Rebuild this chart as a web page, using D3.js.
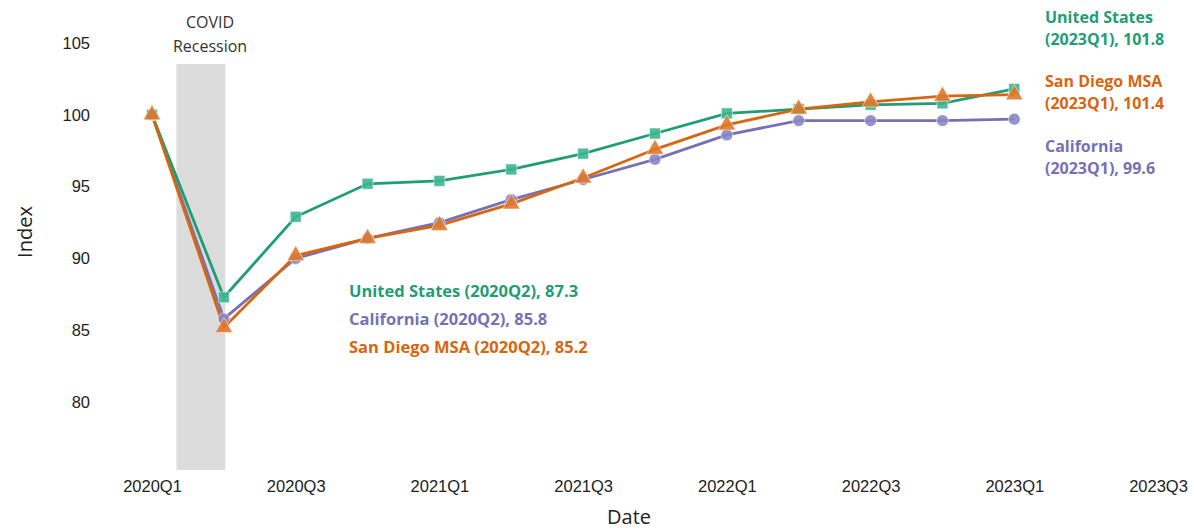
<!DOCTYPE html>
<html>
<head>
<meta charset="utf-8">
<script src="https://cdn.jsdelivr.net/npm/d3@7"></script>
<style>
  body { margin: 0; background: #fff; }
  svg { font-family: "Open Sans", "Noto Sans", sans-serif; }
  .tick text { fill: #222; }
</style>
</head>
<body>
<div id="chart"></div>
<script>
const quarters = ['2020Q1', '2020Q2', '2020Q3', '2020Q4', '2021Q1', '2021Q2', '2021Q3', '2021Q4',
  '2022Q1', '2022Q2', '2022Q3', '2022Q4', '2023Q1', '2023Q2', '2023Q3'];
const tickLabels = ['2020Q1', '2020Q3', '2021Q1', '2021Q3', '2022Q1', '2022Q3', '2023Q1', '2023Q3'];
const yTicks = [80, 85, 90, 95, 100, 105];

const usValues = [100, 87.3, 92.9, 95.2, 95.4, 96.2, 97.3, 98.7, 100.1, 100.4, 100.7, 100.8, 101.8];
const caValues = [100, 85.8, 90.0, 91.4, 92.5, 94.1, 95.5, 96.9, 98.6, 99.6, 99.6, 99.6, 99.7];
const sdValues = [100, 85.2, 90.2, 91.4, 92.3, 93.8, 95.6, 97.6, 99.3, 100.4, 100.9, 101.3, 101.4];

// recession band, in quarter index units
const recession = [0.34, 1.02];

const width = 1194;
const height = 531;

const svg = d3.select('#chart')
  .append('svg')
  .attr('width', width)
  .attr('height', height);

const xScale = d3.scalePoint().domain(quarters).range([152, 1158]);
const xIdx = d3.scaleLinear().domain([0, quarters.length - 1]).range([152, 1158]);
const yScale = d3.scaleLinear().domain([75, 105]).range([474, 43]);

// recession shading
svg.append('rect')
  .attr('x', xIdx(recession[0]))
  .attr('width', xIdx(recession[1]) - xIdx(recession[0]))
  .attr('y', 64)
  .attr('height', 406)
  .attr('fill', '#dcdcdc');

svg.append('text')
  .attr('x', 210).attr('y', 28)
  .attr('text-anchor', 'middle')
  .attr('font-size', 16).attr('fill', '#333')
  .text('COVID');
svg.append('text')
  .attr('x', 210).attr('y', 52)
  .attr('text-anchor', 'middle')
  .attr('font-size', 16).attr('fill', '#333')
  .text('Recession');

// axes (labels only)
const xAxis = svg.append('g')
  .attr('transform', 'translate(0, 474)')
  .call(d3.axisBottom(xScale).tickValues(tickLabels).tickSize(0).tickPadding(6));
xAxis.select('.domain').remove();
xAxis.selectAll('text').attr('font-size', 16.5).attr('font-family', 'inherit');

const yAxis = svg.append('g')
  .attr('transform', 'translate(92, 0)')
  .call(d3.axisLeft(yScale).tickValues(yTicks).tickSize(0).tickPadding(2));
yAxis.select('.domain').remove();
yAxis.selectAll('text').attr('font-size', 16.5).attr('font-family', 'inherit');

svg.append('text')
  .attr('transform', 'translate(32, 232) rotate(-90)')
  .attr('text-anchor', 'middle')
  .attr('font-size', 20).attr('fill', '#222')
  .text('Index');

svg.append('text')
  .attr('x', 629).attr('y', 524)
  .attr('text-anchor', 'middle')
  .attr('font-size', 20).attr('fill', '#222')
  .text('Date');

const series = [
  { name: 'United States', values: usValues, color: '#1f9d74', fill: '#3db58d', symbol: d3.symbolSquare, size: 120 },
  { name: 'San Diego MSA', values: sdValues, color: '#d8650f', fill: '#e0782a', symbol: d3.symbolTriangle, size: 130 },
  { name: 'California', values: caValues, color: '#7670b5', fill: '#8b86c4', symbol: d3.symbolCircle, size: 110 },
];

const line = d3.line()
  .x((d, i) => xScale(quarters[i]))
  .y((d) => yScale(d));

// lines first, then markers
const drawOrder = [series[2], series[0], series[1]];
drawOrder.forEach((s) => {
  svg.append('path')
    .datum(s.values)
    .attr('fill', 'none')
    .attr('stroke', s.color)
    .attr('stroke-width', 2.8)
    .attr('d', line);
});

drawOrder.forEach((s) => {
  svg.append('g')
    .selectAll('path')
    .data(s.values)
    .join('path')
    .attr('transform', (d, i) => `translate(${xScale(quarters[i])}, ${yScale(d)})`)
    .attr('d', d3.symbol().type(s.symbol).size(s.size))
    .attr('fill', s.fill)
    .attr('fill-opacity', 0.9)
    .attr('stroke', '#fff')
    .attr('stroke-opacity', 0.5)
    .attr('stroke-width', 1);
});

// trough annotations
const trough = [
  { text: 'United States (2020Q2), 87.3', color: '#1f9d74', y: 297 },
  { text: 'California (2020Q2), 85.8', color: '#7670b5', y: 325 },
  { text: 'San Diego MSA (2020Q2), 85.2', color: '#d8650f', y: 353 },
];
svg.append('g')
  .selectAll('text')
  .data(trough)
  .join('text')
  .attr('x', 349)
  .attr('y', (d) => d.y)
  .attr('fill', (d) => d.color)
  .attr('font-size', 16.5)
  .attr('font-weight', 'bold')
  .text((d) => d.text);

// latest value annotations
const latest = [
  { lines: ['United States', '(2023Q1), 101.8'], color: '#1f9d74', y: 23 },
  { lines: ['San Diego MSA', '(2023Q1), 101.4'], color: '#d8650f', y: 87 },
  { lines: ['California', '(2023Q1), 99.6'], color: '#7670b5', y: 152 },
];
latest.forEach((d) => {
  d.lines.forEach((t, j) => {
    svg.append('text')
      .attr('x', 1045)
      .attr('y', d.y + j * 21.5)
      .attr('fill', d.color)
      .attr('font-size', 16)
      .attr('font-weight', 'bold')
      .text(t);
  });
});
</script>
</body>
</html>
